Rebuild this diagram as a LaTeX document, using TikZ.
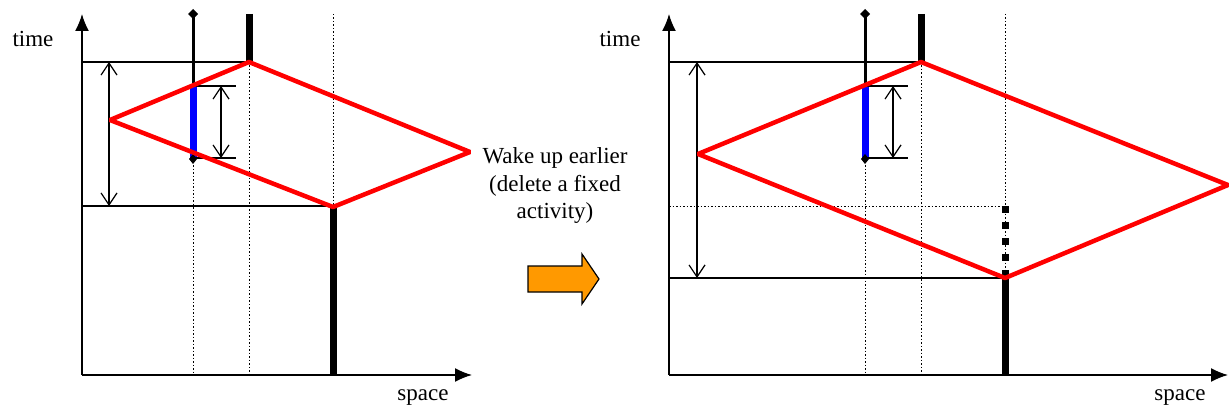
\documentclass[tikz,border=0pt]{standalone}
\usepackage{fontspec}
\setmainfont{Liberation Serif}
\usetikzlibrary{arrows.meta,positioning}
\definecolor{shiftorange}{RGB}{255,153,0}

% axes of one panel: name, x of the time axis, x where the space axis ends
\newcommand{\axesAt}[3]{\coordinate (#1o) at (#2,375);
        \coordinate (#1t) at (#2,14);
        \coordinate (#1s) at (#3,375);
        \draw[axis] (#1o) -- (#1t);
        \draw[axis] (#1o) -- (#1s);
    }
% fixed activities: x shift, time where the last one starts
\newcommand{\fixedAt}[2]{\draw[dots] (#1+193,158) -- (#1+193,375);
        \draw[dots] (#1+249,62) -- (#1+249,375);
        \draw[dots] (#1+333,14) -- (#1+333,#2);
        \draw[stay] (#1+249,14) -- (#1+249,62);
        \draw[stay] (#1+333,#2) -- (#1+333,375);
        \draw[home] (#1+193,14) -- (#1+193,86);
        \draw[flex] (#1+193,86) -- (#1+193,158);
        \fill (#1+193,9) -- (#1+198,14) -- (#1+193,19) -- (#1+188,14) -- cycle;
        \fill (#1+193,154) -- (#1+197,159) -- (#1+193,164) -- (#1+189,159) -- cycle;
        \draw[guide] (#1+193,86) -- (#1+236,86);
        \draw[guide] (#1+193,158) -- (#1+236,158);
        \draw[span] (#1+221,86) -- (#1+221,158);
    }

\begin{document}
\begin{tikzpicture}
                [x=1pt,y=-1pt,
                axis/.style={-{Latex[length=17pt,width=14pt]},line width=1.5pt},
                span/.style={{Straight Barb[length=12pt,width=16pt]}-{Straight Barb[length=12pt,width=16pt]},line width=1.2pt},
                trip/.style={red,line width=4.5pt,line join=bevel},
                guide/.style={line width=1.5pt},
                dots/.style={line width=1pt,dash pattern=on 1.5pt off 2pt},
                stay/.style={line width=7pt},
                home/.style={line width=3pt},
                flex/.style={blue,line width=7pt},
                lbl/.style={font=\fontsize{23}{27.5}\selectfont,inner sep=0pt},
                ]
                \useasboundingbox (0,0) rectangle (1231,412);
                % before
                \axesAt{L}{82}{472}
                \node[lbl] (Ltime) at (33,39) {time};
                \node[lbl] (Lspace) at (423,398) {space};
                \draw[guide] (82,62) -- (249,62);
                \draw[guide] (82,206) -- (333,206);
                \draw[span] (109,62) -- (109,206);
                \fixedAt{0}{207}
                \draw[trip] (249,62) -- (470,152) -- (333,207) -- (110,120) -- cycle;
                % the change
                \node[lbl,align=center] (change) at (555,186) {Wake up earlier\\(delete a fixed\\activity)};
                \fill[shiftorange,draw=black,line width=1.2pt]
                        (528,266) -- (582,266) -- (582,254) -- (599,279) -- (582,304) -- (582,292) -- (528,292) -- cycle;
                % after
                \axesAt{R}{669}{1228}
                \node[lbl] (Rtime) at (620,39) {time};
                \node[lbl] (Rspace) at (1180,398) {space};
                \draw[guide] (669,62) -- (921,62);
                \draw[dots] (669,206) -- (1005,206);
                \draw[guide] (669,278) -- (1005,278);
                \draw[span] (697,62) -- (697,278);
                \fixedAt{672}{278}
                \draw[stay,dash pattern=on 7pt off 9pt] (1005,206) -- (1005,278);
                \draw[trip] (921,62) -- (1228,185) -- (1005,278) -- (698,154) -- cycle;
            \end{tikzpicture}
\end{document}
